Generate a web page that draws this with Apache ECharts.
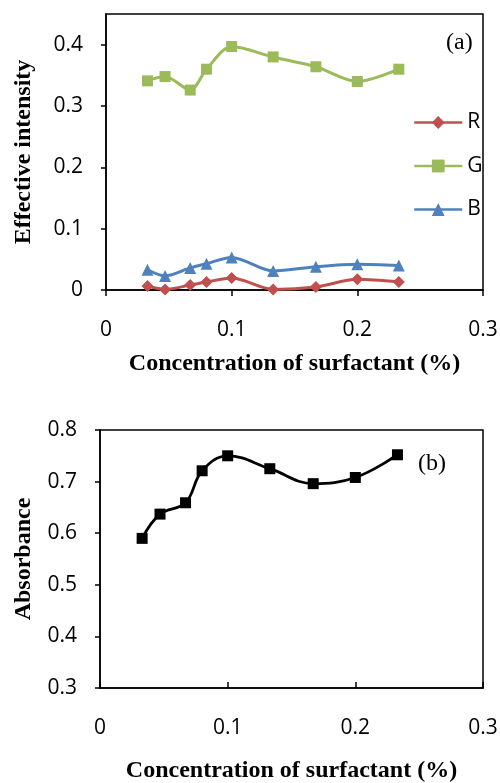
<!DOCTYPE html>
<html>
<head>
<meta charset="utf-8">
<script src="https://cdn.jsdelivr.net/npm/echarts@6/dist/echarts.min.js"></script>
<style>html,body{margin:0;padding:0;background:#fff;}#c{width:500px;height:783px;}</style>
</head>
<body>
<div id="c"></div>
<script>
// ---- data ----
const concentration = [0.033, 0.047, 0.067, 0.08, 0.1, 0.133, 0.167, 0.2, 0.233];
const rValues = [0.0065, 0.001, 0.008, 0.013, 0.0195, 0.001, 0.005, 0.0175, 0.013];
const gValues = [0.341, 0.348, 0.326, 0.36, 0.397, 0.38, 0.364, 0.34, 0.36];
const bValues = [0.033, 0.023, 0.036, 0.043, 0.053, 0.031, 0.038, 0.042, 0.040];
const absorbance = [0.590, 0.637, 0.659, 0.721, 0.750, 0.725, 0.696, 0.708, 0.752];
const xTicks = [0, 0.1, 0.2, 0.3];
const yTicksA = [0, 0.1, 0.2, 0.3, 0.4];
const yTicksB = [0.3, 0.4, 0.5, 0.6, 0.7, 0.8];
const seriesNames = ['R', 'G', 'B'];

const pairs = (vals) => concentration.map((x, i) => [x, vals[i]]);

const tickFont = { fontFamily: 'Open Sans', fontSize: 21, color: '#000' };
const titleFont = { fontFamily: 'Liberation Serif', fontWeight: 'bold', fontSize: 24, color: '#000' };
const fmt = v => (v === 0 ? '0' : String(+v.toFixed(2)));

function xAxis(gridIndex, tickInside, gap) {
  return {
    type: 'value', gridIndex, min: 0, max: 0.3, interval: 0.1,
    name: 'Concentration of surfactant (%)', nameLocation: 'middle', nameGap: gap,
    nameTextStyle: titleFont,
    axisLine: { show: true, lineStyle: { color: '#000', width: 1.5 } },
    axisTick: { show: true, inside: tickInside, length: 6, lineStyle: { color: '#000', width: 1.5 }, customValues: xTicks },
    axisLabel: Object.assign({ margin: 30, formatter: fmt, customValues: xTicks }, tickFont),
    splitLine: { show: false }
  };
}
function yAxis(gridIndex, min, max, ticks, name, gap) {
  return {
    type: 'value', gridIndex, min, max, interval: 0.1,
    name, nameLocation: 'middle', nameGap: gap, nameTextStyle: titleFont,
    axisLine: { show: true, lineStyle: { color: '#000', width: 1.5 } },
    axisTick: { show: true, inside: false, length: 5, lineStyle: { color: '#000', width: 1.5 }, customValues: ticks },
    axisLabel: Object.assign({ margin: 23, formatter: fmt, customValues: ticks }, tickFont),
    splitLine: { show: false }
  };
}

const colors = { R: '#C0504D', G: '#9BBB59', B: '#4F81BD' };
const option = {
  animation: false,
  backgroundColor: '#fff',
  grid: [
    { left: 106, right: 17, top: 14, height: 276, show: true, borderColor: '#000', borderWidth: 1.5, outerBoundsMode: 'none', containLabel: false },
    { left: 100, right: 17, top: 430, height: 258, show: true, borderColor: '#000', borderWidth: 1.5, outerBoundsMode: 'none', containLabel: false }
  ],
  xAxis: [xAxis(0, false, 62), xAxis(1, true, 71)],
  yAxis: [
    yAxis(0, 0, 0.45, yTicksA, 'Effective intensity', 70),
    yAxis(1, 0.3, 0.8, yTicksB, 'Absorbance', 64)
  ],
  legend: {
    data: seriesNames, orient: 'vertical', left: 413, top: 112, padding: 0,
    itemWidth: 48, itemHeight: 16, itemGap: 22.5,
    lineStyle: { width: 2.5 },
    textStyle: { fontFamily: 'Open Sans', fontSize: 21, color: '#000' }
  },
  series: [
    { name: 'R', type: 'line', xAxisIndex: 0, yAxisIndex: 0, data: pairs(rValues), smooth: 0.3,
      symbol: 'diamond', symbolSize: 12, color: colors.R, lineStyle: { width: 3, color: colors.R }, itemStyle: { color: colors.R } },
    { name: 'G', type: 'line', xAxisIndex: 0, yAxisIndex: 0, data: pairs(gValues), smooth: 0.3,
      symbol: 'rect', symbolSize: 11, color: colors.G, lineStyle: { width: 3, color: colors.G }, itemStyle: { color: colors.G } },
    { name: 'B', type: 'line', xAxisIndex: 0, yAxisIndex: 0, data: pairs(bValues), smooth: 0.3,
      symbol: 'triangle', symbolSize: 12, color: colors.B, lineStyle: { width: 3, color: colors.B }, itemStyle: { color: colors.B } },
    { name: 'Absorbance', type: 'line', xAxisIndex: 1, yAxisIndex: 1, data: pairs(absorbance), smooth: 0.4,
      symbol: 'rect', symbolSize: 11, color: '#000', lineStyle: { width: 2.8, color: '#000' }, itemStyle: { color: '#000' } }
  ],
  graphic: [
    { type: 'text', left: 446, top: 31, style: { text: '(a)', font: '24px "Liberation Serif"', fill: '#000' } },
    { type: 'text', left: 418, top: 452, style: { text: '(b)', font: '24px "Liberation Serif"', fill: '#000' } }
  ]
};
const chart = echarts.init(document.getElementById('c'));
chart.setOption(option);
</script>
</body>
</html>
